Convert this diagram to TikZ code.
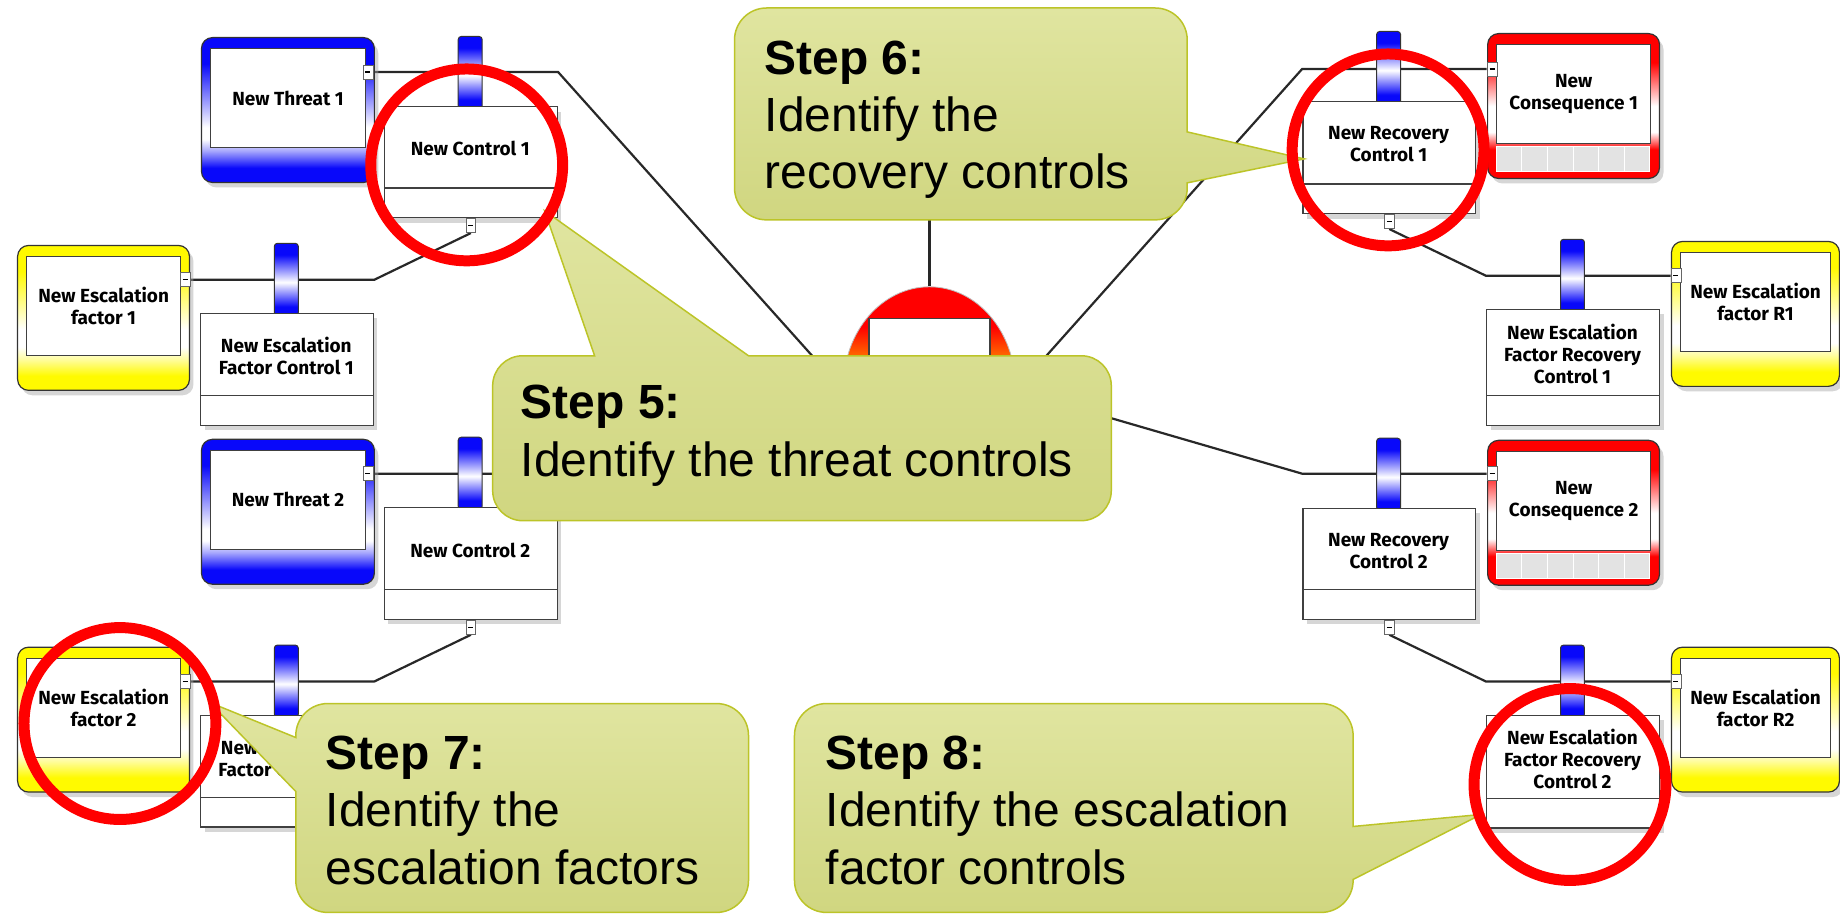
\documentclass[tikz,border=0pt]{standalone}
\usepackage{fontspec}
\setmainfont{Liberation Sans}
\newfontfamily\boxfont{Fira Sans}
\usetikzlibrary{shapes.geometric,shadows}

\definecolor{tblue}{RGB}{8,8,250}
\definecolor{eyellow}{RGB}{255,250,0}
\definecolor{cred}{RGB}{255,0,0}
\definecolor{hzorange}{RGB}{255,115,0}
\definecolor{calltop}{RGB}{224,229,160}
\definecolor{callbot}{RGB}{208,214,128}
\definecolor{callline}{RGB}{188,196,40}
\definecolor{ringred}{RGB}{255,0,0}
\definecolor{wire}{RGB}{40,40,40}

% frame shadings: 25bp = bottom of the shape, 75bp = top
\pgfdeclareverticalshading{blueframe}{100bp}{color(0bp)=(tblue); color(25bp)=(tblue); color(30bp)=(tblue); color(36bp)=(tblue!35!white); color(40bp)=(white); color(44bp)=(white); color(66bp)=(tblue); color(75bp)=(tblue); color(100bp)=(tblue)}
\pgfdeclareverticalshading{yellowframe}{100bp}{color(0bp)=(eyellow); color(25bp)=(eyellow); color(30bp)=(eyellow); color(36bp)=(eyellow!35!white); color(40bp)=(white); color(46bp)=(white); color(66bp)=(eyellow); color(75bp)=(eyellow); color(100bp)=(eyellow)}
\pgfdeclareverticalshading{redframe}{100bp}{color(0bp)=(cred); color(25bp)=(cred); color(35bp)=(cred); color(41bp)=(white); color(50bp)=(white); color(65bp)=(cred); color(75bp)=(cred); color(100bp)=(cred)}
\pgfdeclareverticalshading{barriershade}{100bp}{color(0bp)=(tblue); color(25bp)=(tblue); color(31bp)=(tblue); color(48bp)=(white); color(67bp)=(tblue); color(75bp)=(tblue); color(100bp)=(tblue)}
\pgfdeclareverticalshading{hazshade}{100bp}{color(0bp)=(hzorange); color(25bp)=(hzorange); color(57bp)=(hzorange); color(65bp)=(cred); color(75bp)=(cred); color(100bp)=(cred)}

\newcommand{\labelfont}{\boxfont\bfseries\fontsize{19}{22}\selectfont}

\pgfdeclarelayer{paper}
\pgfdeclarelayer{bg}
\pgfsetlayers{paper,bg,main}

\tikzset{
  boxshadow/.style={drop shadow={shadow xshift=4pt,shadow yshift=-5pt,fill=black!35,opacity=.45}},
  frame/.style={draw=black!80, line width=1.2pt, rounded corners=11pt, minimum height=145pt, inner sep=0pt, shade, boxshadow},
  innerbox/.style={draw=black!75, line width=1.4pt, fill=white, minimum height=99pt, inner sep=0pt, align=center, font=\labelfont},
  ctrl/.style={draw=black!75, line width=1.4pt, fill=white, minimum width=173pt, inner sep=0pt, boxshadow},
  barrier/.style={draw=black!80, line width=1pt, rounded corners=3pt, minimum width=24pt, minimum height=72pt, inner sep=0pt, shade, shading=barriershade},
  fold/.style={draw=black!60, fill=white, line width=0.8pt, minimum width=10pt, minimum height=14pt, inner sep=0pt},
  cell/.style={fill=black!11, draw=white, line width=1pt},
  ring/.style={draw=ringred, line width=11pt, circle, minimum size=192pt, inner sep=0pt},
  wireline/.style={draw=wire, line width=2.2pt},
  callout/.style={top color=calltop, bottom color=callbot, draw=callline, line width=1.5pt},
  steptitle/.style={anchor=base west, inner sep=0pt, font=\bfseries\fontsize{48}{57}\selectfont},
  steptext/.style={anchor=base west, inner sep=0pt, font=\fontsize{48}{57}\selectfont},
}

% #1 name, #2 shading, #3 left, #4 top, #5 width, #6 label
\newcommand{\bowframe}[6]{%
  \node[frame, shading=#2, minimum width=#5pt, anchor=north west] (#1) at (#3,#4) {};
  \node[innerbox, minimum width=#5pt-18pt, anchor=north west] (#1-in) at (#3+9,#4+11) {#6};
}
% #1 name, #2 left, #3 top, #4 height, #5 label
\newcommand{\ctrlbox}[5]{%
  \node[barrier, anchor=south] (#1-bar) at (#2+86.5,#3+3) {};
  \node[ctrl, minimum height=#4pt, anchor=north west] (#1) at (#2,#3) {};
  \draw[black!75, line width=1.4pt] (#2,#3+#4-29) -- ++(173,0);
  \node[font=\labelfont, align=center, inner sep=0pt] (#1-txt) at (#2+86.5,{#3+(#4-29)/2+2}) {#5};
}
\newcommand{\foldmark}{\rule{5pt}{1.3pt}}

\begin{document}
\begin{tikzpicture}[x=1pt,y=-1pt]
\begin{pgfonlayer}{paper}
  \path[use as bounding box, fill=white] (0,0) rectangle (1840,915);
\end{pgfonlayer}

% hazard
\node[ellipse, minimum width=172pt, minimum height=200pt, inner sep=0pt, draw=black!25, line width=0.8pt, shade, shading=hazshade] (hz) at (930,387) {};
\node[draw=black!75, line width=1.4pt, fill=white, minimum width=121pt, minimum height=110pt, anchor=north, inner sep=0pt] (hzbox) at (930,318) {};
\coordinate (topev) at (930,150);
\coordinate (hzL) at (870,420);
\coordinate (hzL2) at (880,445);
\coordinate (hzR) at (990,420);
\coordinate (hzR2) at (990,383);

% threats and escalation factors (left)
\bowframe{t1}{blueframe}{201}{37}{173}{New Threat 1}
\bowframe{t2}{blueframe}{201}{439}{173}{New Threat 2}
\bowframe{ef1}{yellowframe}{17}{245}{172}{New Escalation\\factor 1}
\bowframe{ef2}{yellowframe}{17}{647}{172}{New Escalation\\factor 2}

% consequences and escalation factors (right)
\bowframe{cq1}{redframe}{1488}{33}{172}{New\\Consequence 1}
\foreach \i in {0,...,5} {\draw[cell] (1497+\i*25.67,147) rectangle ++(25.67,25);}
\bowframe{cq2}{redframe}{1488}{440}{172}{New\\Consequence 2}
\foreach \i in {0,...,5} {\draw[cell] (1497+\i*25.67,554) rectangle ++(25.67,25);}
\bowframe{efr1}{yellowframe}{1672}{241}{168}{New Escalation\\factor R1}
\bowframe{efr2}{yellowframe}{1672}{647}{168}{New Escalation\\factor R2}

% controls with barriers
\ctrlbox{c1}{384}{106}{111}{New Control 1}
\ctrlbox{c2}{384}{507}{112}{New Control 2}
\ctrlbox{efc1}{200}{313}{112}{New Escalation\\Factor Control 1}
\ctrlbox{efc2}{200}{715}{112}{New Escalation\\Factor Control 2}
\ctrlbox{rc1}{1303}{101}{112}{New Recovery\\Control 1}
\ctrlbox{rc2}{1303}{508}{111}{New Recovery\\Control 2}
\ctrlbox{efrc1}{1487}{309}{116}{New Escalation\\Factor Recovery\\Control 1}
\ctrlbox{efrc2}{1487}{715}{113}{New Escalation\\Factor Recovery\\Control 2}

% collapse markers
\node[fold] (t1m) at ([xshift=-7pt,yshift=-35pt]t1.north east) {\foldmark};
\node[fold] (t2m) at ([xshift=-7pt,yshift=-35pt]t2.north east) {\foldmark};
\node[fold] (ef1m) at ([xshift=-5pt,yshift=-35pt]ef1.north east) {\foldmark};
\node[fold] (ef2m) at ([xshift=-5pt,yshift=-35pt]ef2.north east) {\foldmark};
\node[fold] (cq1m) at ([xshift=5pt,yshift=-36pt]cq1.north west) {\foldmark};
\node[fold] (cq2m) at ([xshift=5pt,yshift=-34pt]cq2.north west) {\foldmark};
\node[fold] (efr1m) at ([xshift=5pt,yshift=-35pt]efr1.north west) {\foldmark};
\node[fold] (efr2m) at ([xshift=5pt,yshift=-35pt]efr2.north west) {\foldmark};
\node[fold, anchor=north] (c1m) at (c1.south) {\foldmark};
\node[fold, anchor=north] (c2m) at (c2.south) {\foldmark};
\node[fold, anchor=north] (rc1m) at (rc1.south) {\foldmark};
\node[fold, anchor=north] (rc2m) at (rc2.south) {\foldmark};

% connectors
\begin{pgfonlayer}{bg}
  \draw[wireline] (hz.north) -- (topev);
  \draw[wireline] (t1m.east) -- (t1m.east -| c1.east) -- (hzL);
  \draw[wireline] (t2m.east) -- (t2m.east -| c2.east) -- (hzL2);
  \draw[wireline] (c1m.south) -- (ef1m.east -| efc1.east) -- (ef1m.east);
  \draw[wireline] (c2m.south) -- (ef2m.east -| efc2.east) -- (ef2m.east);
  \draw[wireline] (hzR) -- (cq1m.west -| rc1.west) -- (cq1m.west);
  \draw[wireline] (hzR2) -- (cq2m.west -| rc2.west) -- (cq2m.west);
  \draw[wireline] (rc1m.south) -- (efr1m.west -| efrc1.west) -- (efr1m.west);
  \draw[wireline] (rc2m.south) -- (efr2m.west -| efrc2.west) -- (efr2m.west);
\end{pgfonlayer}

% step callouts
\path[callout] (767,8) -- (1156,8) arc[start angle=-90,end angle=0,radius=32] -- (1188,132) -- (1305,159) -- (1188,183) -- (1188,188) arc[start angle=0,end angle=90,radius=32] -- (767,220) arc[start angle=90,end angle=180,radius=32] -- (735,40) arc[start angle=180,end angle=270,radius=32] -- cycle;
\node[steptitle] (s6a) at (765,75) {Step 6:};
\node[steptext] (s6b) at (765,132) {Identify the};
\node[steptext] (s6c) at (765,189) {recovery controls};

\path[callout] (523,356) -- (595,356) -- (545,211) -- (749,356) -- (1082,356) arc[start angle=-90,end angle=0,radius=30] -- (1112,491) arc[start angle=0,end angle=90,radius=30] -- (523,521) arc[start angle=90,end angle=180,radius=30] -- (493,386) arc[start angle=180,end angle=270,radius=30] -- cycle;
\node[steptitle] (s5a) at (521,419) {Step 5:};
\node[steptext] (s5b) at (521,477) {Identify the threat controls};

\path[callout] (328,704) -- (717,704) arc[start angle=-90,end angle=0,radius=32] -- (749,881) arc[start angle=0,end angle=90,radius=32] -- (328,913) arc[start angle=90,end angle=180,radius=32] -- (296,792) -- (210,703) -- (296,738) -- (296,736) arc[start angle=180,end angle=270,radius=32] -- cycle;
\node[steptitle] (s7a) at (326,770) {Step 7:};
\node[steptext] (s7b) at (326,827) {Identify the};
\node[steptext] (s7c) at (326,885) {escalation factors};

\path[callout] (827,704) -- (1322,704) arc[start angle=-90,end angle=0,radius=32] -- (1354,827) -- (1482,815) -- (1354,880) -- (1354,881) arc[start angle=0,end angle=90,radius=32] -- (827,913) arc[start angle=90,end angle=180,radius=32] -- (795,736) arc[start angle=180,end angle=270,radius=32] -- cycle;
\node[steptitle] (s8a) at (826,770) {Step 8:};
\node[steptext] (s8b) at (826,827) {Identify the escalation};
\node[steptext] (s8c) at (826,885) {factor controls};

% highlight rings
\node[ring] (r1) at (467,165) {};
\node[ring] (r2) at (1389,150) {};
\node[ring] (r3) at (120,724) {};
\node[ring] (r4) at (1571,785) {};
\end{tikzpicture}
\end{document}
